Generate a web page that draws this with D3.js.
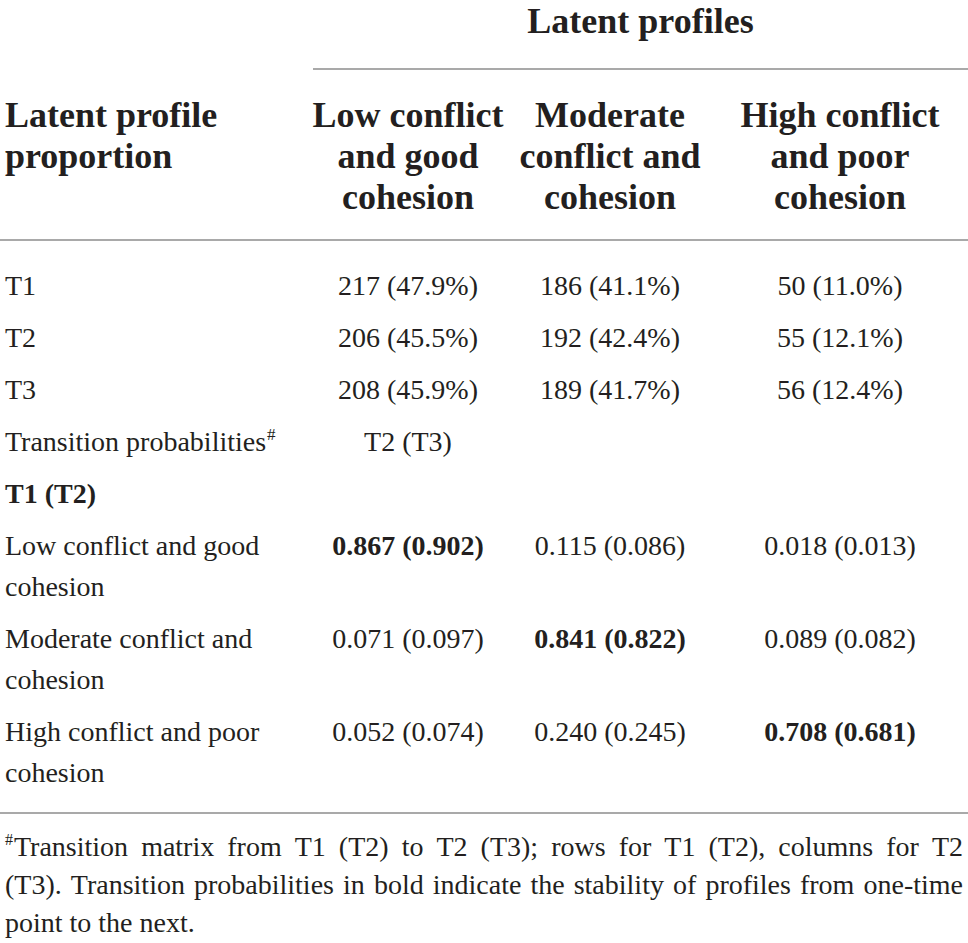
<!DOCTYPE html>
<html>
<head>
<meta charset="utf-8">
<script src="https://cdn.jsdelivr.net/npm/d3@7"></script>
<style>
  html, body { margin: 0; padding: 0; background: #fff; }
  svg { display: block; }
</style>
</head>
<body>
<div class="table"></div>
<script>
// table content
const profiles = ['Low conflict and good cohesion', 'Moderate conflict and cohesion', 'High conflict and poor cohesion'];
const profileHead = [['Low conflict', 'and good', 'cohesion'], ['Moderate', 'conflict and', 'cohesion'], ['High conflict', 'and poor', 'cohesion']];
const profileRowLabel = [['Low conflict and good', 'cohesion'], ['Moderate conflict and', 'cohesion'], ['High conflict and poor', 'cohesion']];
const waves = ['T1', 'T2', 'T3'];
const counts = [[217, 186, 50], [206, 192, 55], [208, 189, 56]];
const shares = [[47.9, 41.1, 11.0], [45.5, 42.4, 12.1], [45.9, 41.7, 12.4]];
const probT1 = [[0.867, 0.115, 0.018], [0.071, 0.841, 0.089], [0.052, 0.240, 0.708]];
const probT2 = [[0.902, 0.086, 0.013], [0.097, 0.822, 0.082], [0.074, 0.245, 0.681]];
const footLines = [
  'Transition matrix from T1 (T2) to T2 (T3); rows for T1 (T2), columns for T2',
  '(T3). Transition probabilities in bold indicate the stability of profiles from one-time',
  'point to the next.'
];

/* layout */
const W = 968, H = 943;
const FONT = '"Liberation Serif", "DejaVu Serif", serif';
const INK = '#231f20';
const RULE = '#8c8c8c';
const left = 5, right = 963;

const svg = d3.select('.table').append('svg')
  .attr('width', W).attr('height', H)
  .attr('font-family', FONT)
  .attr('fill', INK);

const xCol = d3.scaleOrdinal(profiles, [408, 610, 840]);
const f1 = d3.format('.1f'), f3 = d3.format('.3f');

// rules
const rules = [
  {x1: 313, x2: W, y: 69},
  {x1: 0, x2: W, y: 240},
  {x1: 0, x2: W, y: 813}
];
svg.append('g').selectAll('line').data(rules).join('line')
  .attr('x1', d => d.x1).attr('x2', d => d.x2)
  .attr('y1', d => d.y).attr('y2', d => d.y)
  .attr('stroke', RULE).attr('stroke-width', 1.5);

/******************** header ********************/
const head = svg.append('g').attr('font-weight', 'bold').attr('font-size', 36);
head.append('text')
  .attr('x', (313 + W) / 2).attr('y', 33)
  .attr('text-anchor', 'middle')
  .text('Latent profiles');

head.append('text')
  .attr('x', left).attr('y', 127)
  .selectAll('tspan').data(['Latent profile', 'proportion']).join('tspan')
    .attr('x', left)
    .attr('dy', (d, i) => i === 0 ? 0 : 41)
    .text(d => d);

head.selectAll('text.col').data(profiles).join('text')
  .attr('class', 'col')
  .attr('text-anchor', 'middle')
  .attr('y', 127)
  .selectAll('tspan').data((d, i) => profileHead[i].map(t => ({p: d, t}))).join('tspan')
    .attr('x', d => xCol(d.p))
    .attr('dy', (d, i) => i === 0 ? 0 : 41)
    .text(d => d.t);

/******************** body ********************/
const body = svg.append('g').attr('font-size', 28);
const rowStep = 52, lineStep = 41;
const y0 = 295;

// proportion rows
waves.forEach((w, r) => {
  const y = y0 + r * rowStep;
  body.append('text').attr('x', left).attr('y', y).text(w);
  body.append('g').selectAll('text').data(profiles).join('text')
    .attr('x', d => xCol(d)).attr('y', y)
    .attr('text-anchor', 'middle')
    .text((d, j) => `${counts[r][j]} (${f1(shares[r][j])}%)`);
});

// transition heading rows
const yTrans = y0 + 3 * rowStep;
const tp = body.append('text').attr('x', left).attr('y', yTrans);
tp.append('tspan').text('Transition probabilities');
tp.append('tspan').attr('font-size', 17).attr('dx', 1).attr('dy', -11).text('#');
body.append('text')
  .attr('x', xCol(profiles[0])).attr('y', yTrans)
  .attr('text-anchor', 'middle')
  .text('T2 (T3)');
body.append('text')
  .attr('x', left).attr('y', yTrans + rowStep)
  .attr('font-weight', 'bold')
  .text('T1 (T2)');

// transition matrix
const yMat = yTrans + 2 * rowStep;
profiles.forEach((p, r) => {
  const y = yMat + r * (rowStep + lineStep);
  body.append('text').attr('x', left).attr('y', y)
    .selectAll('tspan').data(profileRowLabel[r]).join('tspan')
      .attr('x', left)
      .attr('dy', (d, i) => i === 0 ? 0 : lineStep)
      .text(d => d);
  body.append('g').selectAll('text').data(profiles).join('text')
    .attr('x', d => xCol(d)).attr('y', y)
    .attr('text-anchor', 'middle')
    .attr('font-weight', (d, j) => j === r ? 'bold' : null)
    .text((d, j) => `${f3(probT1[r][j])} (${f3(probT2[r][j])})`);
});

/******************** footnote ********************/
const foot = svg.append('g').attr('font-size', 28);
const footY = [856, 894, 932];
const measure = foot.append('text').attr('visibility', 'hidden');
const wordWidth = s => { measure.text(s); return measure.node().getComputedTextLength(); };
const spaceW = wordWidth('a a') - wordWidth('aa');

footLines.forEach((line, i) => {
  const words = line.split(' ');
  const t = foot.append('text').attr('y', footY[i]);
  let start = left;
  if (i === 0) {
    t.append('tspan').attr('x', left).attr('font-size', 16).attr('dy', -11).text('#');
    measure.attr('font-size', 16);
    start = left + wordWidth('#') + 1;
    measure.attr('font-size', null);
  }
  const widths = words.map(wordWidth);
  const justify = i < footLines.length - 1;
  const gap = justify
    ? (right - start - d3.sum(widths)) / (words.length - 1)
    : spaceW;
  let x = start;
  words.forEach((w, k) => {
    t.append('tspan')
      .attr('x', x)
      .attr('y', footY[i])
      .text(w);
    x += widths[k] + gap;
  });
});
measure.remove();
</script>
</body>
</html>
